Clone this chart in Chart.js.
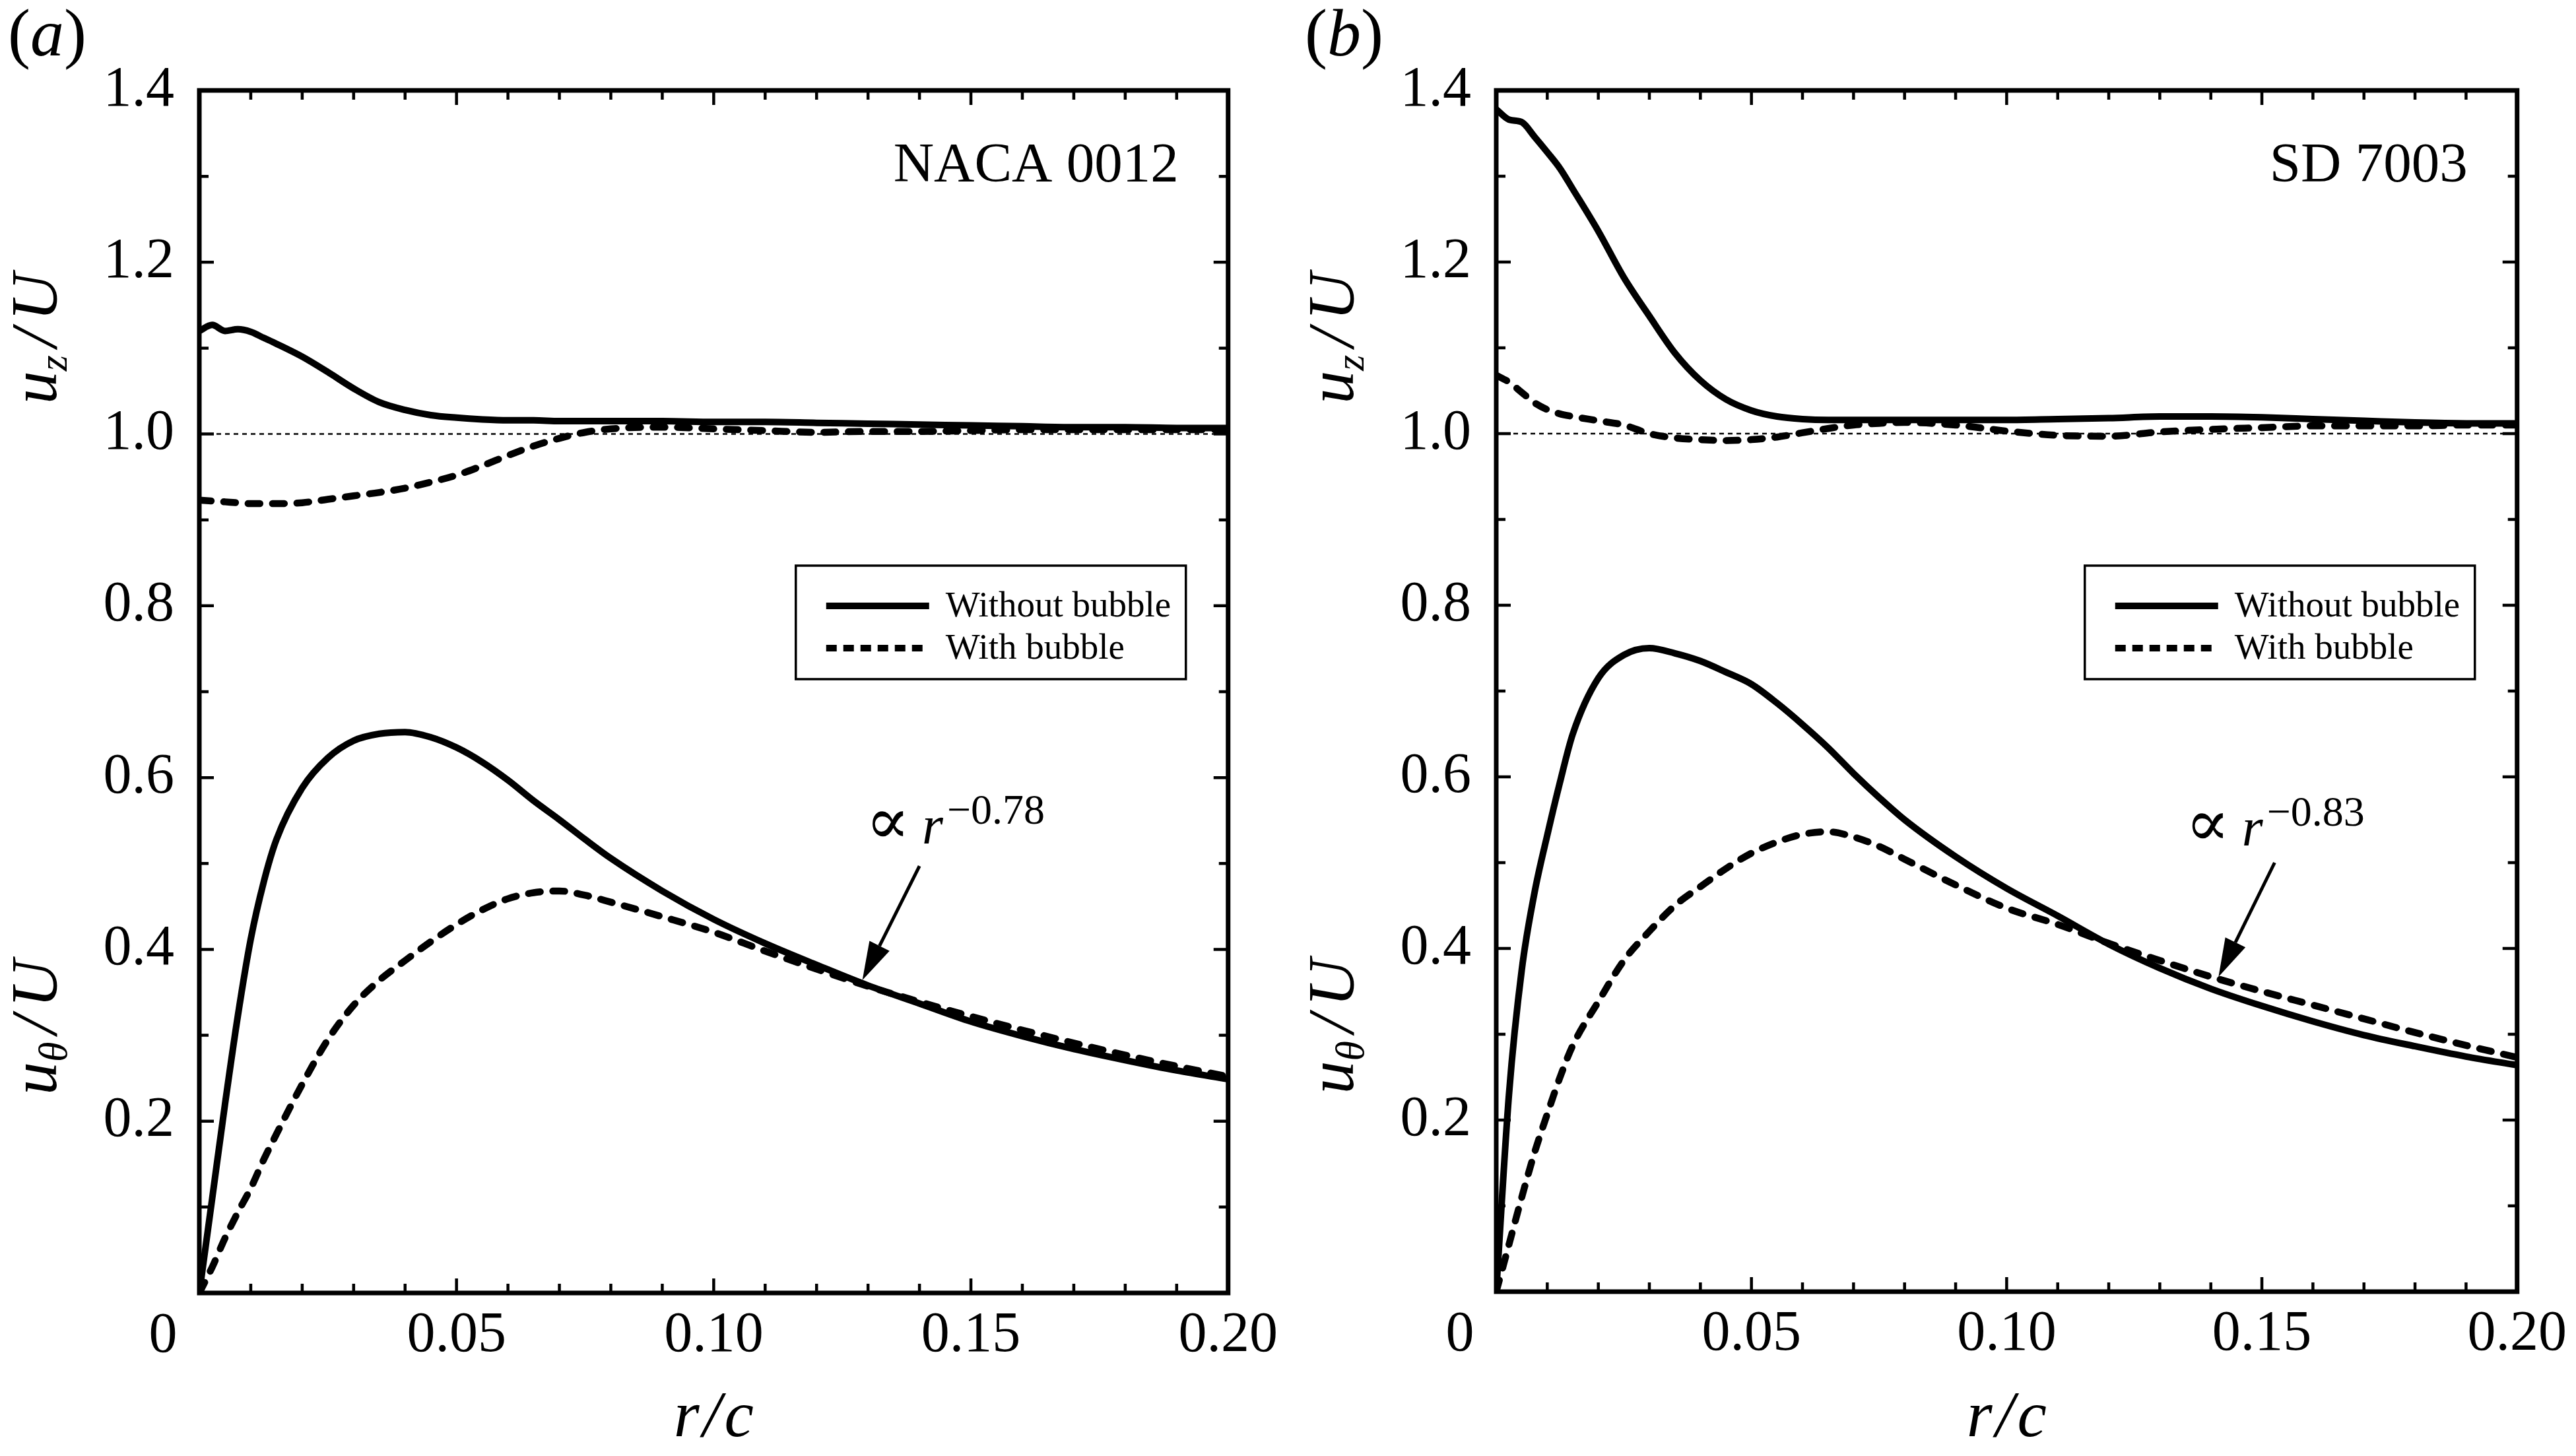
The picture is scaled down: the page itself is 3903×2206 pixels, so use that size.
<!DOCTYPE html>
<html lang="en">
<head>
<meta charset="UTF-8">
<title>Tip vortex velocity profiles</title>
<script src="https://cdn.jsdelivr.net/npm/chart.js"></script>
<style>
  html, body { margin: 0; padding: 0; background: #fff; }
  #wrap { position: relative; width: 3903px; height: 2206px; }
  canvas { position: absolute; top: 0; }
</style>
</head>
<body>
<div id="wrap">
  <canvas id="panelA" width="1950" height="2206" style="left:0px"></canvas>
  <canvas id="panelB" width="1953" height="2206" style="left:1950px"></canvas>
</div>
<script>
const rGrid = [0, 0.0025, 0.005, 0.0075, 0.01, 0.0125, 0.015, 0.02, 0.025, 0.03, 0.035, 0.04,
  0.045, 0.05, 0.055, 0.06, 0.065, 0.07, 0.075, 0.08, 0.09, 0.10, 0.11, 0.12, 0.13, 0.14,
  0.15, 0.16, 0.17, 0.18, 0.19, 0.20];

// (a) NACA 0012
const nacaUzWithout = [1.120, 1.127, 1.120, 1.122, 1.119, 1.112, 1.105, 1.090, 1.072, 1.053, 1.037, 1.028,
  1.022, 1.019, 1.017, 1.016, 1.016, 1.015, 1.015, 1.015, 1.015, 1.014, 1.014, 1.013, 1.012, 1.011,
  1.010, 1.009, 1.008, 1.008, 1.007, 1.007];
const nacaUzWith = [0.923, 0.922, 0.921, 0.920, 0.919, 0.919, 0.919, 0.920, 0.924, 0.928, 0.932, 0.937,
  0.944, 0.952, 0.963, 0.975, 0.986, 0.995, 1.002, 1.006, 1.008, 1.006, 1.004, 1.002, 1.003, 1.003,
  1.004, 1.005, 1.005, 1.005, 1.005, 1.005];
const nacaUtWithout = [0, 0.11, 0.22, 0.323, 0.412, 0.478, 0.528, 0.588, 0.623, 0.643, 0.651, 0.653,
  0.647, 0.635, 0.618, 0.597, 0.573, 0.551, 0.528, 0.506, 0.468, 0.435, 0.407, 0.382, 0.358, 0.337,
  0.316, 0.299, 0.284, 0.271, 0.259, 0.249];
const nacaUtWith = [0, 0.03, 0.064, 0.094, 0.122, 0.155, 0.185, 0.243, 0.295, 0.335, 0.364, 0.387,
  0.409, 0.429, 0.446, 0.459, 0.466, 0.468, 0.463, 0.455, 0.438, 0.42, 0.398, 0.377, 0.357, 0.339,
  0.322, 0.306, 0.291, 0.277, 0.264, 0.252];

// (b) SD 7003
const sdUzWithout = [1.378, 1.366, 1.363, 1.346, 1.328, 1.309, 1.285, 1.236, 1.182, 1.137, 1.094, 1.062,
  1.040, 1.027, 1.020, 1.017, 1.016, 1.016, 1.016, 1.016, 1.016, 1.016, 1.017, 1.018, 1.020, 1.020,
  1.019, 1.017, 1.015, 1.013, 1.012, 1.012];
const sdUzWith = [1.068, 1.060, 1.048, 1.036, 1.028, 1.023, 1.020, 1.015, 1.010, 1.000, 0.995, 0.993,
  0.992, 0.993, 0.996, 1.001, 1.006, 1.010, 1.012, 1.013, 1.010, 1.003, 0.998, 0.997, 1.002, 1.005,
  1.007, 1.009, 1.009, 1.009, 1.010, 1.010];
const sdUtWithout = [0, 0.23, 0.375, 0.465, 0.532, 0.594, 0.65, 0.715, 0.742, 0.750, 0.744, 0.735,
  0.722, 0.708, 0.686, 0.661, 0.634, 0.604, 0.576, 0.55, 0.507, 0.47, 0.438, 0.405, 0.377, 0.353,
  0.333, 0.315, 0.299, 0.286, 0.274, 0.264];
const sdUtWith = [0, 0.055, 0.11, 0.162, 0.207, 0.25, 0.287, 0.338, 0.386, 0.42, 0.45, 0.472,
  0.493, 0.511, 0.524, 0.533, 0.536, 0.530, 0.519, 0.504, 0.474, 0.447, 0.428, 0.406, 0.386, 0.367,
  0.35, 0.334, 0.318, 0.302, 0.287, 0.273];

const xTickValues = [0, 0.05, 0.10, 0.15, 0.20];
const xTickLabels = ['0', '0.05', '0.10', '0.15', '0.20'];
const yTickValues = [0.2, 0.4, 0.6, 0.8, 1.0, 1.2, 1.4];
const yTickLabels = ['0.2', '0.4', '0.6', '0.8', '1.0', '1.2', '1.4'];
const seriesNames = ['Without bubble', 'With bubble'];

const SERIF = '"Liberation Serif", "DejaVu Serif", serif';
const f = (size, style) => (style ? style + ' ' : '') + size + 'px ' + SERIF;

// draw a run of text pieces left to right
function drawSeq(ctx, parts, x, y) {
  parts.forEach(p => {
    ctx.font = p.font;
    ctx.fillText(p.t, x, y + (p.dy || 0));
    x += ctx.measureText(p.t).width + (p.gap || 0);
  });
}
function seqWidth(ctx, parts) {
  let w = 0;
  parts.forEach(p => { ctx.font = p.font; w += ctx.measureText(p.t).width + (p.gap || 0); });
  return w;
}

function decor(cfg) {
  return {
    id: 'decor',
    afterDraw(chart) {
      const ctx = chart.ctx;
      const { left, right, top, bottom } = chart.chartArea;
      const xs = chart.scales.x, ys = chart.scales.y;
      ctx.save();
      ctx.fillStyle = '#000';
      ctx.strokeStyle = '#000';

      // inward ticks on all four sides
      ctx.lineWidth = 4.5;
      ctx.beginPath();
      for (let k = 0; k <= 20; k++) {
        const px = xs.getPixelForValue(k / 100);
        const len = k % 5 === 0 ? 22 : 14;
        ctx.moveTo(px, bottom); ctx.lineTo(px, bottom - len);
        ctx.moveTo(px, top); ctx.lineTo(px, top + len);
      }
      for (let k = 0; k <= 14; k++) {
        const py = ys.getPixelForValue(k / 10);
        const len = k % 2 === 0 ? 22 : 14;
        ctx.moveTo(left, py); ctx.lineTo(left + len, py);
        ctx.moveTo(right, py); ctx.lineTo(right - len, py);
      }
      ctx.stroke();
      ctx.lineWidth = 7;
      ctx.strokeRect(left, top, right - left, bottom - top);

      // the "0" of the x axis sits left of the corner
      ctx.font = f(86);
      ctx.textAlign = 'center';
      ctx.textBaseline = 'middle';
      ctx.fillText(xTickLabels[0], left - 55, bottom + 66);

      // airfoil name
      ctx.textAlign = 'right';
      ctx.textBaseline = 'alphabetic';
      ctx.font = f(85);
      ctx.fillText(cfg.name, right - 75, 275);

      // legend box
      const ds = chart.data.datasets;
      const bx = right - 655, by = 857, bw = 591, bh = 172;
      ctx.lineWidth = 3.5;
      ctx.strokeRect(bx, by, bw, bh);
      [[ds[0], 918, []], [ds[1], 982, [16, 10]]].forEach(([d, y, dash]) => {
        ctx.beginPath();
        ctx.lineWidth = 10;
        ctx.lineCap = 'butt';
        ctx.setLineDash(dash);
        ctx.moveTo(bx + 46, y); ctx.lineTo(bx + 202, y);
        ctx.stroke();
        ctx.setLineDash([]);
        ctx.textAlign = 'left';
        ctx.textBaseline = 'middle';
        ctx.font = f(55);
        ctx.fillText(d.label, bx + 227, y + 2);
      });

      // power-law annotation with arrow
      const a = cfg.ann;
      const tx = xs.getPixelForValue(a.text[0]), ty = ys.getPixelForValue(a.text[1]);
      ctx.textAlign = 'left';
      ctx.textBaseline = 'alphabetic';
      drawSeq(ctx, [
        { t: '\u221D', font: '100px "DejaVu Serif", serif', gap: 18 },
        { t: 'r', font: f(82, 'italic'), gap: 6 },
        { t: a.exp, font: f(64), dy: -30 }
      ], tx, ty);
      const x0 = xs.getPixelForValue(a.tail[0]), y0 = ys.getPixelForValue(a.tail[1]);
      const x1 = xs.getPixelForValue(a.tip[0]), y1 = ys.getPixelForValue(a.tip[1]);
      const ang = Math.atan2(y1 - y0, x1 - x0);
      const hl = 58, hw = 17;
      const bxp = x1 - hl * Math.cos(ang), byp = y1 - hl * Math.sin(ang);
      ctx.lineWidth = 5;
      ctx.beginPath();
      ctx.moveTo(x0, y0); ctx.lineTo(bxp, byp);
      ctx.stroke();
      ctx.beginPath();
      ctx.moveTo(x1, y1);
      ctx.lineTo(bxp + hw * Math.sin(ang), byp - hw * Math.cos(ang));
      ctx.lineTo(bxp - hw * Math.sin(ang), byp + hw * Math.cos(ang));
      ctx.closePath();
      ctx.fill();

      // y-axis titles (rotated)
      const titles = [
        { sub: 'z', v: 1.111 },
        { sub: '\u03B8', v: 0.309 }
      ];
      titles.forEach(tt => {
        const parts = [
          { t: 'u', font: f(100, 'italic') },
          { t: tt.sub, font: f(62, 'italic'), dy: 16, gap: 12 },
          { t: '/', font: f(100, 'italic'), gap: 12 },
          { t: 'U', font: f(100, 'italic') }
        ];
        const w = seqWidth(ctx, parts);
        ctx.save();
        ctx.translate(left - 217, ys.getPixelForValue(tt.v));
        ctx.rotate(-Math.PI / 2);
        drawSeq(ctx, parts, -w / 2, 0);
        ctx.restore();
      });

      // x-axis title
      const xt = [
        { t: 'r', font: f(100, 'italic'), gap: 5 },
        { t: '/', font: f(100, 'italic'), gap: 5 },
        { t: 'c', font: f(100, 'italic') }
      ];
      drawSeq(ctx, xt, (left + right) / 2 - seqWidth(ctx, xt) / 2, 2176);

      // panel tag
      drawSeq(ctx, [
        { t: '(', font: f(102) },
        { t: cfg.tag, font: f(102, 'italic') },
        { t: ')', font: f(102) }
      ], cfg.tagX, 84);

      ctx.restore();
    }
  };
}

function makePanel(cfg) {
  const canvas = document.getElementById(cfg.id);
  const W = canvas.width, H = canvas.height;
  const pts = arr => rGrid.map((r, i) => ({ x: r, y: arr[i] }));
  const solid = {
    borderColor: '#000', borderWidth: 10, pointRadius: 0, fill: false,
    cubicInterpolationMode: 'monotone', borderCapStyle: 'round', borderJoinStyle: 'round'
  };
  const dashed = Object.assign({}, solid, { borderWidth: 10.5, borderDash: [18, 19] });
  return new Chart(canvas, {
    type: 'line',
    data: {
      datasets: [
        Object.assign({}, solid, { label: seriesNames[0], data: pts(cfg.uzWithout) }),
        Object.assign({}, dashed, { label: seriesNames[1], data: pts(cfg.uzWith) }),
        Object.assign({}, solid, { label: seriesNames[0], data: pts(cfg.utWithout) }),
        Object.assign({}, dashed, { label: seriesNames[1], data: pts(cfg.utWith) }),
        {
          label: 'U', data: [{ x: 0, y: 1 }, { x: 0.2, y: 1 }],
          borderColor: '#000', borderWidth: 2.5, borderDash: [7, 6], pointRadius: 0, fill: false
        }
      ]
    },
    options: {
      responsive: false,
      animation: false,
      devicePixelRatio: 1,
      layout: { padding: { top: cfg.top, right: W - cfg.right, left: 0, bottom: 0 } },
      plugins: { legend: { display: false }, tooltip: { enabled: false } },
      scales: {
        x: {
          type: 'linear', min: 0, max: 0.2,
          grid: { display: false, drawTicks: false },
          border: { display: false },
          afterBuildTicks: s => { s.ticks = xTickValues.map(v => ({ value: v })); },
          ticks: {
            callback: (v, i) => (i === 0 ? '' : xTickLabels[i]),
            font: { family: SERIF, size: 86 }, color: '#000', padding: 14,
            maxRotation: 0, autoSkip: false
          },
          afterFit: s => { s.height = H - cfg.bottom; }
        },
        y: {
          type: 'linear', min: 0, max: 1.4,
          grid: { display: false, drawTicks: false },
          border: { display: false },
          afterBuildTicks: s => { s.ticks = yTickValues.map(v => ({ value: v })); },
          ticks: {
            callback: (v, i) => yTickLabels[i],
            font: { family: SERIF, size: 86 }, color: '#000', padding: 38, autoSkip: false
          },
          afterFit: s => { s.width = cfg.left; }
        }
      }
    },
    plugins: [decor(cfg)]
  });
}

makePanel({
  id: 'panelA', left: 302, right: 1864, top: 137, bottom: 1959,
  name: 'NACA 0012', tag: 'a', tagX: 12,
  uzWithout: nacaUzWithout, uzWith: nacaUzWith, utWithout: nacaUtWithout, utWith: nacaUtWith,
  ann: { text: [0.1295, 0.523], tail: [0.140, 0.497], tip: [0.1289, 0.3642], exp: '\u22120.78' }
});
makePanel({
  id: 'panelB', left: 317, right: 1877, top: 137, bottom: 1957,
  name: 'SD 7003', tag: 'b', tagX: 27,
  uzWithout: sdUzWithout, uzWith: sdUzWith, utWithout: sdUtWithout, utWith: sdUtWith,
  ann: { text: [0.1350, 0.520], tail: [0.1525, 0.500], tip: [0.1415, 0.367], exp: '\u22120.83' }
});
</script>
</body>
</html>
